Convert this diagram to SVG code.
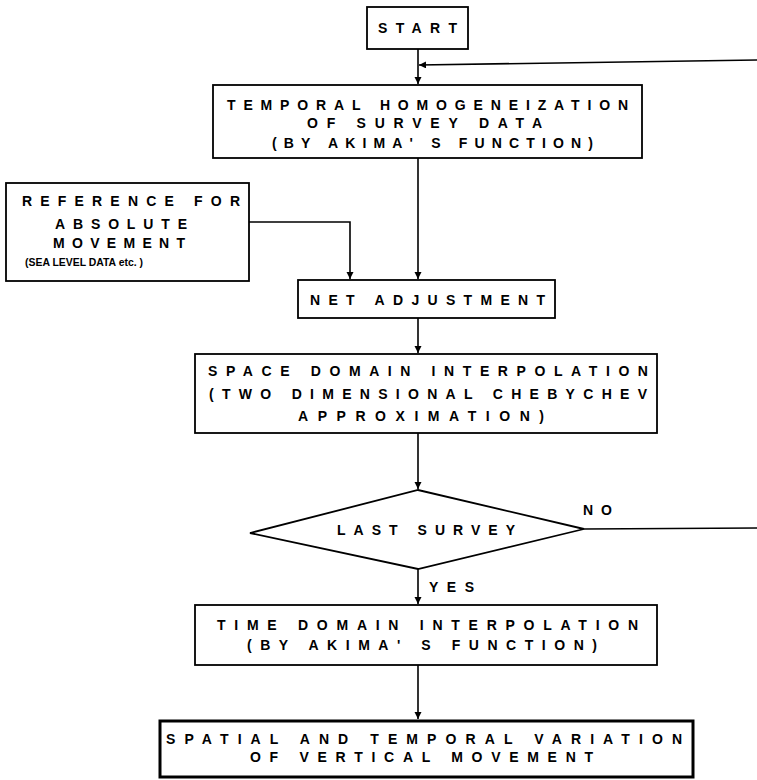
<svg xmlns="http://www.w3.org/2000/svg" width="757" height="780" viewBox="0 0 757 780">
<style>
  .box{fill:#fff;stroke:#000;stroke-width:1.8}
  .thick{stroke-width:3}
  .ln{fill:none;stroke:#000;stroke-width:1.6}
  .t{font-family:"Liberation Sans",Arial,sans-serif;font-weight:bold;font-size:14px;fill:#000}
  .s{font-family:"Liberation Sans Narrow","Liberation Sans",Arial,sans-serif;font-weight:bold;font-size:11px;fill:#000}
</style>
<defs>
  <marker id="arr" markerUnits="userSpaceOnUse" markerWidth="8" markerHeight="8" refX="7" refY="3.5" orient="auto">
    <path d="M0,0 L7,3.5 L0,7 z" fill="#000"/>
  </marker>
</defs>
<rect width="757" height="780" fill="#fff"/>

<g id="connectors">
  <path class="ln" d="M418,49 V84" marker-end="url(#arr)"/>
  <path class="ln" d="M757,60 L419,65" marker-end="url(#arr)"/>
  <path class="ln" d="M418,158 V279" marker-end="url(#arr)"/>
  <path class="ln" d="M249,222 H350 V279" marker-end="url(#arr)"/>
  <path class="ln" d="M418,318 V353" marker-end="url(#arr)"/>
  <path class="ln" d="M418,433 V489" marker-end="url(#arr)"/>
  <path class="ln" d="M418,569 V604" marker-end="url(#arr)"/>
  <path class="ln" d="M584,529 L757,528"/>
  <path class="ln" d="M418,665 V719" marker-end="url(#arr)"/>
</g>

<g id="start">
  <rect class="box" x="367" y="7" width="101" height="42"/>
  <text class="t" x="378" y="33" textLength="79" lengthAdjust="spacing">START</text>
</g>

<g id="temporal-homogenization">
  <rect class="box" x="213" y="85" width="429" height="73"/>
  <text class="t" x="227" y="110" textLength="401" lengthAdjust="spacing">TEMPORAL HOMOGENEIZATION</text>
  <text class="t" x="307" y="128" textLength="235" lengthAdjust="spacing">OF SURVEY DATA</text>
  <text class="t" x="272" y="148" textLength="321" lengthAdjust="spacing">(BY AKIMA' S FUNCTION)</text>
</g>

<g id="reference">
  <rect class="box" x="6" y="183" width="243" height="98"/>
  <text class="t" x="22" y="206" textLength="218" lengthAdjust="spacing">REFERENCE FOR</text>
  <text class="t" x="55" y="229" textLength="132" lengthAdjust="spacing">ABSOLUTE</text>
  <text class="t" x="53" y="248" textLength="132" lengthAdjust="spacing">MOVEMENT</text>
  <text class="s" x="25" y="266" textLength="118" lengthAdjust="spacingAndGlyphs">(SEA LEVEL DATA etc. )</text>
</g>

<g id="net-adjustment">
  <rect class="box" x="298" y="280" width="257" height="38"/>
  <text class="t" x="310" y="305" textLength="235" lengthAdjust="spacing">NET ADJUSTMENT</text>
</g>

<g id="space-domain">
  <rect class="box" x="195" y="354" width="462" height="79"/>
  <text class="t" x="208" y="376" textLength="440" lengthAdjust="spacing">SPACE DOMAIN INTERPOLATION</text>
  <text class="t" x="209" y="399" textLength="438" lengthAdjust="spacing">(TWO DIMENSIONAL CHEBYCHEV</text>
  <text class="t" x="298" y="421" textLength="246" lengthAdjust="spacing">APPROXIMATION)</text>
</g>

<g id="last-survey">
  <polygon class="box" points="418,490 584,529 418,569 250,533"/>
  <text class="t" x="337" y="535" textLength="178" lengthAdjust="spacing">LAST SURVEY</text>
  <text class="t" x="583" y="515" textLength="29" lengthAdjust="spacing">NO</text>
  <text class="t" x="429" y="592" textLength="45" lengthAdjust="spacing">YES</text>
</g>

<g id="time-domain">
  <rect class="box" x="195" y="605" width="462" height="60"/>
  <text class="t" x="217" y="630" textLength="421" lengthAdjust="spacing">TIME DOMAIN INTERPOLATION</text>
  <text class="t" x="247" y="650" textLength="350" lengthAdjust="spacing">(BY AKIMA' S FUNCTION)</text>
</g>

<g id="spatial-temporal">
  <rect class="box thick" x="160" y="721" width="533" height="56"/>
  <text class="t" x="166" y="744" textLength="516" lengthAdjust="spacing">SPATIAL AND TEMPORAL VARIATION</text>
  <text class="t" x="250" y="762" textLength="343" lengthAdjust="spacing">OF VERTICAL MOVEMENT</text>
</g>
</svg>
